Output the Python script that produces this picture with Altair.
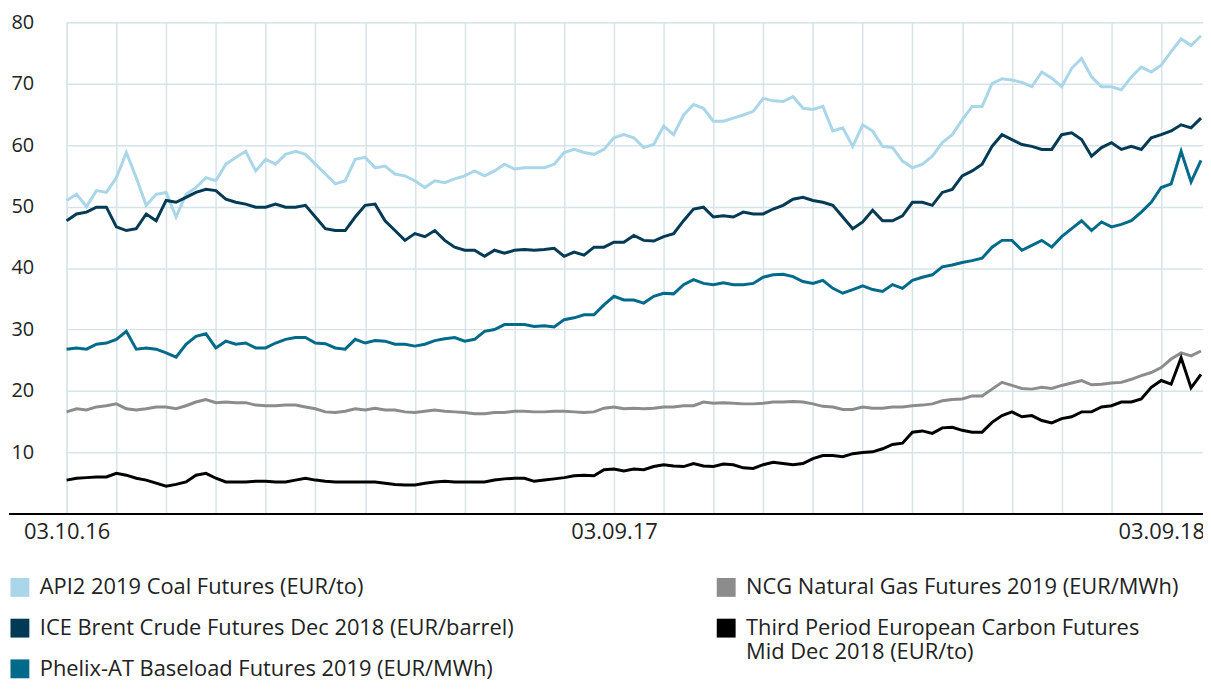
import altair as alt
import pandas as pd

FONT = "Open Sans"
TEXT = "#222222"
GRID = "#d6e4ea"

# trading-day steps (one step = 1/5 of a gridline interval)
coal = [51, 52, 50, 52.6, 52.3, 54.7, 58.8, 54.7, 50.2, 52, 52.3, 48.3, 52, 53.1, 54.7, 54.2, 56.9, 58, 59, 55.8, 57.7, 56.9, 58.5,
        59, 58.5, 56.9, 55.3, 53.7, 54.2, 57.7, 58, 56.3, 56.6, 55.3, 55, 54.2, 53.1, 54.2, 53.9, 54.5, 55, 55.8, 55, 55.8, 56.9, 56.1,
        56.3, 56.3, 56.3, 56.9, 58.8, 59.3, 58.8, 58.5, 59.3, 61.2, 61.7, 61.2, 59.6, 60.1, 63.1, 61.7, 64.9, 66.6, 66, 63.9, 63.9, 64.4, 64.9,
        65.5, 67.6, 67.2, 67.1, 67.9, 66, 65.8, 66.3, 62.3, 62.8, 59.8, 63.3, 62.3, 59.8, 59.6, 57.4, 56.3, 56.9, 58.2, 60.4, 61.7, 64.1, 66.3,
        66.3, 70, 70.8, 70.6, 70.2, 69.5, 71.9, 70.9, 69.5, 72.5, 74.1, 71.1, 69.5, 69.5, 69, 71.1, 72.7, 71.9, 73, 75.2, 77.3, 76.2, 77.8]

brent = [47.7, 48.8, 49.1, 49.9, 49.9, 46.7, 46.1, 46.4, 48.8, 47.7, 51, 50.7, 51.5, 52.3, 52.8, 52.6, 51.2, 50.7, 50.4, 49.9, 49.9, 50.4, 49.9,
         49.9, 50.2, 48.3, 46.4, 46.1, 46.1, 48.3, 50.2, 50.4, 47.7, 46.1, 44.5, 45.6, 45.1, 46.1, 44.5, 43.4, 42.9, 42.9, 41.9, 42.9, 42.4, 42.9,
         43, 42.9, 43, 43.2, 41.9, 42.6, 42.1, 43.4, 43.4, 44.2, 44.2, 45.3, 44.5, 44.4, 45.1, 45.6, 47.7, 49.6, 49.9, 48.3, 48.5, 48.3, 49.1,
         48.8, 48.8, 49.6, 50.2, 51.2, 51.5, 51, 50.7, 50.2, 48.3, 46.4, 47.5, 49.4, 47.7, 47.7, 48.5, 50.7, 50.7, 50.2, 52.3, 52.8, 55, 55.8,
         56.9, 59.8, 61.7, 60.9, 60.1, 59.8, 59.3, 59.3, 61.7, 62, 60.9, 58.2, 59.6, 60.4, 59.3, 59.8, 59.3, 61.2, 61.7, 62.3, 63.3, 62.8, 64.4]

phelix = [26.8, 27, 26.8, 27.6, 27.8, 28.4, 29.7, 26.8, 27, 26.8, 26.2, 25.5, 27.6, 28.9, 29.3, 27, 28.1, 27.6, 27.8, 27, 27, 27.8, 28.4,
          28.7, 28.7, 27.8, 27.7, 27, 26.8, 28.4, 27.8, 28.2, 28.1, 27.6, 27.6, 27.3, 27.6, 28.2, 28.5, 28.7, 28.1, 28.4, 29.7, 30, 30.8, 30.8,
          30.8, 30.5, 30.6, 30.4, 31.6, 31.9, 32.4, 32.4, 34, 35.4, 34.8, 34.8, 34.3, 35.4, 35.9, 35.8, 37.3, 38.1, 37.5, 37.3, 37.6, 37.3, 37.3,
          37.5, 38.5, 38.9, 39, 38.6, 37.8, 37.5, 38, 36.7, 35.9, 36.5, 37.1, 36.5, 36.2, 37.3, 36.7, 38, 38.5, 38.9, 40.2, 40.5, 40.9, 41.2,
          41.6, 43.4, 44.5, 44.5, 42.9, 43.7, 44.5, 43.4, 45.1, 46.4, 47.7, 46.1, 47.5, 46.7, 47.1, 47.7, 49.1, 50.7, 53.1, 53.7, 59, 54, 57.5]

ncg = [16.6, 17.1, 16.9, 17.4, 17.6, 17.9, 17.1, 16.9, 17.1, 17.4, 17.4, 17.1, 17.6, 18.2, 18.6, 18.1, 18.2, 18.1, 18.1, 17.7, 17.6, 17.6, 17.7,
       17.7, 17.4, 17.1, 16.6, 16.5, 16.7, 17.1, 16.9, 17.2, 16.9, 16.9, 16.6, 16.5, 16.7, 16.9, 16.7, 16.6, 16.5, 16.3, 16.3, 16.5, 16.5, 16.7,
       16.7, 16.6, 16.6, 16.7, 16.7, 16.6, 16.5, 16.6, 17.2, 17.4, 17.1, 17.2, 17.1, 17.2, 17.4, 17.4, 17.6, 17.6, 18.2, 18, 18.1, 18, 17.9,
       17.9, 18, 18.2, 18.2, 18.3, 18.2, 17.9, 17.5, 17.4, 17, 17, 17.4, 17.2, 17.2, 17.4, 17.4, 17.6, 17.7, 17.9, 18.4, 18.6, 18.7, 19.2,
       19.2, 20.3, 21.4, 20.9, 20.4, 20.3, 20.6, 20.4, 20.9, 21.3, 21.7, 21, 21.1, 21.3, 21.4, 21.9, 22.5, 23, 23.8, 25.2, 26.2, 25.7, 26.5]

carbon = [5.5, 5.8, 5.9, 6, 6, 6.6, 6.3, 5.8, 5.5, 5, 4.5, 4.8, 5.2, 6.3, 6.6, 5.8, 5.2, 5.2, 5.2, 5.3, 5.3, 5.2, 5.2,
          5.5, 5.8, 5.5, 5.3, 5.2, 5.2, 5.2, 5.2, 5.2, 5, 4.8, 4.7, 4.7, 5, 5.2, 5.3, 5.2, 5.2, 5.2, 5.2, 5.5, 5.7, 5.8,
          5.8, 5.3, 5.5, 5.7, 5.9, 6.2, 6.3, 6.2, 7.2, 7.3, 7, 7.3, 7.2, 7.7, 8, 7.8, 7.7, 8.2, 7.8, 7.7, 8.1, 8, 7.5,
          7.4, 8, 8.4, 8.2, 8, 8.2, 9, 9.5, 9.5, 9.3, 9.8, 10, 10.1, 10.6, 11.3, 11.5, 13.3, 13.5, 13.1, 14, 14.1, 13.6, 13.3,
          13.3, 14.9, 16, 16.6, 15.8, 16, 15.2, 14.8, 15.5, 15.8, 16.6, 16.6, 17.4, 17.6, 18.2, 18.2, 18.7, 20.6, 21.7, 21.1, 25.4, 20.5, 22.7]

carbon_label_lines = ["Third Period European Carbon Futures", "Mid Dec 2018 (EUR/to)"]
names = [
    "API2 2019 Coal Futures (EUR/to)",
    "ICE Brent Crude Futures Dec 2018 (EUR/barrel)",
    "Phelix-AT Baseload Futures 2019 (EUR/MWh)",
    "NCG Natural Gas Futures 2019 (EUR/MWh)",
    " ".join(carbon_label_lines),
]
colors = ["#a9d6e9", "#003a54", "#006a8a", "#8c8c8c", "#000000"]
series_values = [coal, brent, phelix, ncg, carbon]

x_tick_steps = [0, 55, 110]
x_tick_labels = ["03.10.16", "03.09.17", "03.09.18"]
x_grid_steps = list(range(0, 111, 5))
y_ticks = [10, 20, 30, 40, 50, 60, 70, 80]

rows = []
for name, vals in zip(names, series_values):
    for i, v in enumerate(vals):
        rows.append({"t": i, "value": v, "series": name})
df = pd.DataFrame(rows)
first_points = df[df.t == 0]

x_label_expr = " : ".join(f"datum.value == {s} ? '{l}'" for s, l in zip(x_tick_steps, x_tick_labels)) + " : ''"

x_enc = alt.X("t:Q", title=None,
              scale=alt.Scale(domain=[0, 114.2], nice=False, zero=False),
              axis=alt.Axis(values=x_grid_steps, labelExpr=x_label_expr, grid=True, gridColor=GRID, gridWidth=1.5,
                            domain=False, ticks=False, labelFontSize=22, labelFont=FONT, labelColor=TEXT,
                            labelPadding=8, labelOverlap=False, labelFlush=False, labelBound=False))
y_enc = alt.Y("value:Q", title=None,
              scale=alt.Scale(domain=[0, 80], nice=False),
              axis=alt.Axis(values=y_ticks, grid=True, gridColor=GRID, gridWidth=1.5, domain=False, ticks=False,
                            tickSize=0, labelAlign="left", labelPadding=56, labelFontSize=20, labelFont=FONT,
                            labelColor=TEXT, labelBaseline="middle"))


def legend(x, y, extra=None):
    kw = dict(orient="none", legendX=x, legendY=y, direction="vertical", symbolType="square",
              symbolSize=361, symbolStrokeWidth=0, symbolOpacity=1, labelFontSize=22, labelFont=FONT,
              labelColor=TEXT, labelLimit=0, rowPadding=19, labelOffset=9, padding=0)
    if extra:
        kw.update(extra)
    return alt.Legend(**kw)


carbon_expr = (f"datum.label == '{names[4]}' ? ['{carbon_label_lines[0]}', '{carbon_label_lines[1]}'] : datum.label")

base_line = alt.Chart(pd.DataFrame({"v": [0]})).mark_rule(color="#000000", strokeWidth=2).encode(
    y=alt.Y("v:Q", scale=alt.Scale(domain=[0, 80], nice=False)), x=alt.value(-58), x2=alt.value(1144))

lines = alt.Chart(df).mark_line(strokeWidth=3).encode(
    x=x_enc, y=y_enc,
    color=alt.Color("series:N", scale=alt.Scale(domain=names, range=colors), legend=None),
    order=alt.Order("t:Q"))

key_a = alt.Chart(first_points[first_points.series.isin(names[:3])]).mark_square(opacity=0).encode(
    x=x_enc, y=y_enc,
    fill=alt.Fill("series:N", title=None, scale=alt.Scale(domain=names[:3], range=colors[:3]),
                  legend=legend(-58, 558)))

key_b = alt.Chart(first_points[first_points.series.isin(names[3:])]).mark_square(opacity=0).encode(
    x=x_enc, y=y_enc,
    fill=alt.Fill("series:N", title=None, scale=alt.Scale(domain=names[3:], range=colors[3:]),
                  legend=legend(653, 558, {"labelExpr": carbon_expr})))

chart = alt.layer(base_line, lines, key_a, key_b).resolve_scale(fill="independent").properties(
    width=1144, height=495,
    padding={"left": 59, "top": 12, "right": 0, "bottom": 175},
    autosize=alt.AutoSizeParams(type="none"),
).configure_view(strokeWidth=0).configure(font=FONT)

chart.save("out.html", embed_options={"renderer": "svg", "actions": False})
